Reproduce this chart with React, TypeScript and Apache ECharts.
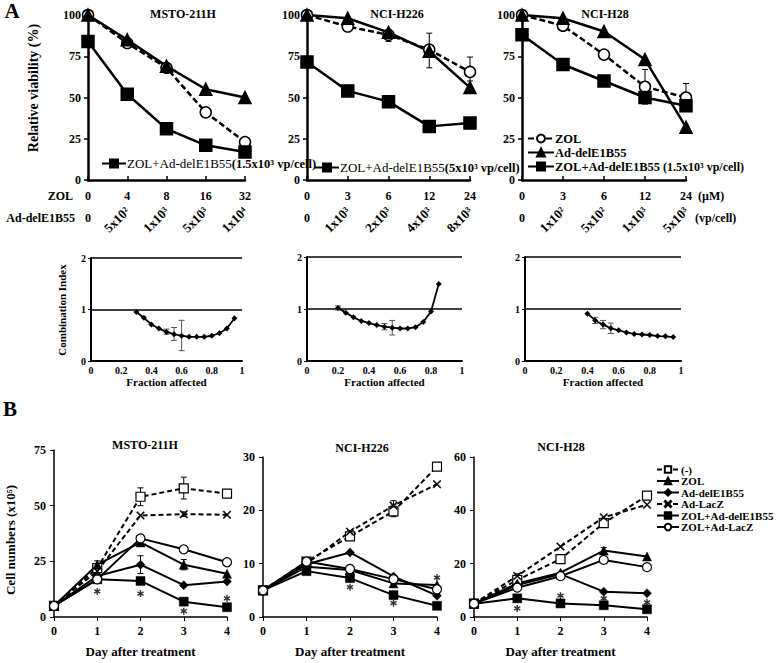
import React, { useEffect, useRef } from 'react';
import * as echarts from 'echarts';

const SERIF = '"Liberation Serif", "Times New Roman", Times, serif';

// ---------------- Panel A: relative viability ----------------
const mstoZolDoses = ['0', '4', '8', '16', '32'];
const mstoAdDoses = ['0', '5x10²', '1x10³', '5x10³', '1x10⁴'];
const mstoZol = [100, 83, 68, 41, 23];
const mstoAd = [100, 85, 69, 55, 50];
const mstoCombo = [84, 52, 31, 21, 17];

const h226ZolDoses = ['0', '3', '6', '12', '24'];
const h226AdDoses = ['0', '1x10³', '2x10³', '4x10³', '8x10³'];
const h226Zol = [100, 93, 88, 79, 65.5];
const h226Ad = [100, 98, 89.5, 78, 56];
const h226Combo = [71.5, 54, 47.5, 32.5, 34.5];

const h28ZolDoses = ['0', '3', '6', '12', '24'];
const h28AdDoses = ['0', '1x10²', '5x10²', '1x10³', '5x10³'];
const h28Zol = [100, 93.5, 76, 56.5, 50];
const h28Ad = [100, 98, 90, 73, 32];
const h28Combo = [88, 70, 60, 50, 45];

const viabilityTicks = [0, 25, 50, 75, 100];

// error bars: [dose index, low, high]
const mstoZolErr = [[1, 81, 85], [3, 39.5, 43.5], [4, 21.5, 25]];
const mstoComboErr = [[3, 19.5, 23.5]];
const h226ZolErr = [[2, 84, 91], [3, 68, 89], [4, 60, 74.5]];
const h28ZolErr = [[2, 73, 79], [3, 50, 67], [4, 42, 58.5]];
const h28ComboErr = [[3, 46, 53]];

// ---------------- Panel A: combination index ----------------
const ci1Fa = [0.3, 0.35, 0.4, 0.45, 0.5, 0.55, 0.6, 0.65, 0.7, 0.75, 0.8, 0.85, 0.9, 0.95];
const ci1 = [0.95, 0.84, 0.71, 0.63, 0.565, 0.52, 0.49, 0.47, 0.47, 0.47, 0.49, 0.54, 0.63, 0.83];
const ci1Err = [[0.5, 0.52, 0.62], [0.55, 0.4, 0.65], [0.6, 0.2, 0.79]];

const ci2Fa = [0.2, 0.25, 0.3, 0.35, 0.4, 0.45, 0.5, 0.55, 0.6, 0.65, 0.7, 0.75, 0.8, 0.85];
const ci2 = [1.02, 0.93, 0.84, 0.77, 0.73, 0.69, 0.66, 0.64, 0.625, 0.625, 0.65, 0.75, 0.95, 1.48];
const ci2Err = [[0.2, 0.98, 1.06], [0.5, 0.6, 0.72], [0.55, 0.5, 0.78]];

const ci3Fa = [0.4, 0.45, 0.5, 0.55, 0.6, 0.65, 0.7, 0.75, 0.8, 0.85, 0.9, 0.95];
const ci3 = [0.91, 0.78, 0.7, 0.63, 0.59, 0.55, 0.52, 0.51, 0.5, 0.48, 0.475, 0.46];
const ci3Err = [[0.45, 0.72, 0.84], [0.5, 0.62, 0.78], [0.55, 0.53, 0.73]];

// ---------------- Panel B: cell numbers ----------------
const days = [0, 1, 2, 3, 4];
const groupNames = ['(-)', 'ZOL', 'Ad-delE1B55', 'Ad-LacZ', 'ZOL+Ad-delE1B55', 'ZOL+Ad-LacZ'];

const mstoCells = [
  [5, 22, 54, 57.8, 55.4],      // (-)
  [5, 23.5, 33.5, 23.5, 19.4],  // ZOL
  [5, 18.4, 23.5, 14.3, 15.9],  // Ad-delE1B55
  [5, 20.6, 45.6, 46.2, 45.9],  // Ad-LacZ
  [5, 16.9, 16.2, 6.9, 4.4],    // ZOL+Ad-delE1B55
  [5, 16.9, 35.3, 30.4, 24.6],  // ZOL+Ad-LacZ
];
const h226Cells = [
  [5, 10.4, 15.1, 19.8, 28.2],
  [5, 9.4, 8.8, 6.3, 6.0],
  [5, 9.9, 12.1, 7.6, 4.0],
  [5, 10.0, 16.0, 20.9, 24.9],
  [5, 8.6, 7.3, 4.1, 2.1],
  [5, 10.4, 9.0, 7.1, 5.2],
];
const h28Cells = [
  [5, 13.9, 21.7, 35.2, 45.5],
  [5, 12.6, 16.6, 24.9, 22.7],
  [5, 12.0, 16.1, 9.5, 8.9],
  [5, 15.4, 26.4, 37.4, 42.1],
  [5, 7.0, 5.1, 4.4, 2.9],
  [5, 11.0, 15.3, 21.4, 18.7],
];

// error bars [day, low, high]
const mstoCellErr = [[2, 50, 58], [3, 53, 62.8], [1, 22, 25.2], [3, 21.2, 25.8], [2, 19.5, 27.5], [3, 45.2, 47.2]];
const h226CellErr = [[3, 18.8, 21], [2, 14.5, 16.2], [3, 20.3, 21.8]];
const h28CellErr = [[3, 33.8, 36.6], [3, 24, 26], [1, 14.6, 16.2]];

// significance asterisk positions [day, value]
const mstoStars = [[1, 11.5], [2, 10.5], [3, 2.6], [4, 8.4]];
const h226Stars = [[2, 5.6], [3, 2.6], [4, 7.4]];
const h28Stars = [[1, 3.2], [2, 8], [3, 7], [4, 5.5]];

const X_PATH = 'path://M0,1L1,0L5,4L9,0L10,1L6,5L10,9L9,10L5,6L1,10L0,9L4,5Z';
const STAR_PATH =
  'path://M4,0L6,0L6,10L4,10Z M1.17,1.63L9.83,6.63L8.83,8.37L0.17,3.37Z M0.17,6.63L8.83,1.63L9.83,3.37L1.17,8.37Z';

const groupStyles = [
  { symbol: 'rect', open: true, dashed: true, size: 9 },
  { symbol: 'triangle', open: false, dashed: false, size: 9 },
  { symbol: 'diamond', open: false, dashed: false, size: 9 },
  { symbol: X_PATH, open: false, dashed: true, size: 8 },
  { symbol: 'rect', open: false, dashed: false, size: 9 },
  { symbol: 'circle', open: true, dashed: false, size: 9 },
];

function errSeries(data: number[][], xi: number, yi: number, color = '#000', cap = 3) {
  return {
    type: 'custom',
    xAxisIndex: xi,
    yAxisIndex: yi,
    data,
    silent: true,
    z: 1,
    encode: { x: 0, y: [1, 2] },
    renderItem: (params: any, api: any) => {
      const x = api.value(0);
      const lo = api.coord([x, api.value(1)]);
      const hi = api.coord([x, api.value(2)]);
      const style = { stroke: color, lineWidth: 1 };
      return {
        type: 'group',
        children: [
          { type: 'line', shape: { x1: lo[0], y1: lo[1], x2: hi[0], y2: hi[1] }, style },
          { type: 'line', shape: { x1: lo[0] - cap, y1: lo[1], x2: lo[0] + cap, y2: lo[1] }, style },
          { type: 'line', shape: { x1: hi[0] - cap, y1: hi[1], x2: hi[0] + cap, y2: hi[1] }, style },
        ],
      };
    },
  };
}

function vLine(name: string, data: number[], xi: number, yi: number, kind: 'zol' | 'ad' | 'combo') {
  const base: any = {
    name,
    type: 'line',
    xAxisIndex: xi,
    yAxisIndex: yi,
    data,
    z: 3,
    lineStyle: { color: '#000', width: 2.5, type: kind === 'zol' ? [6, 3] : 'solid' },
    itemStyle: { color: '#000', borderColor: '#000', borderWidth: 1.5 },
  };
  if (kind === 'zol') {
    base.symbol = 'circle';
    base.symbolSize = 11;
    base.itemStyle = { color: '#fff', borderColor: '#000', borderWidth: 1.5 };
  } else if (kind === 'ad') {
    base.symbol = 'triangle';
    base.symbolSize = 12;
  } else {
    base.symbol = 'rect';
    base.symbolSize = 12;
  }
  return base;
}

function ciLine(fa: number[], ci: number[], xi: number, yi: number) {
  return {
    type: 'line',
    xAxisIndex: xi,
    yAxisIndex: yi,
    data: fa.map((f, i) => [f, ci[i]]),
    symbol: 'diamond',
    symbolSize: 6,
    lineStyle: { color: '#000', width: 1.8 },
    itemStyle: { color: '#000' },
    z: 3,
  };
}

function starSeries(data: number[][], xi: number, yi: number) {
  return {
    type: 'scatter',
    xAxisIndex: xi,
    yAxisIndex: yi,
    data,
    symbol: STAR_PATH,
    symbolSize: 7,
    symbolKeepAspect: true,
    silent: true,
    z: 4,
    itemStyle: { color: '#000' },
  };
}

const tickLabel = { color: '#000', fontFamily: SERIF, fontWeight: 'bold' as const, fontSize: 12 };

function viabilityX(data: string[], gridIndex: number) {
  return {
    type: 'category',
    gridIndex,
    data,
    boundaryGap: false,
    axisLine: { show: true, lineStyle: { color: '#000', width: 2.5 } },
    axisTick: { show: true, inside: true, length: 4, lineStyle: { color: '#000', width: 1.5 } },
    axisLabel: { ...tickLabel, margin: 10, interval: 0 },
    splitLine: { show: false },
  };
}

function doseX(data: string[], gridIndex: number) {
  return {
    type: 'category',
    gridIndex,
    data,
    boundaryGap: false,
    position: 'bottom',
    offset: 22,
    axisLine: { show: false },
    axisTick: { show: false },
    axisLabel: {
      ...tickLabel,
      fontSize: 13,
      rotate: 45,
      margin: 7,
      interval: 0,
      formatter: (v: string, i: number) => (i === 0 ? '' : v),
    },
    splitLine: { show: false },
  };
}

function viabilityY(gridIndex: number) {
  return {
    type: 'value',
    gridIndex,
    min: viabilityTicks[0],
    max: viabilityTicks[viabilityTicks.length - 1],
    interval: 25,
    axisLine: { show: true, lineStyle: { color: '#000', width: 2.5 } },
    axisTick: { show: true, length: 4, lineStyle: { color: '#000', width: 1.5 } },
    axisLabel: { ...tickLabel, margin: 7 },
    splitLine: { show: false },
  };
}

function ciX(gridIndex: number) {
  return {
    type: 'value',
    gridIndex,
    min: 0,
    max: 1,
    interval: 0.2,
    name: 'Fraction affected',
    nameLocation: 'middle',
    nameGap: 15,
    nameTextStyle: { ...tickLabel, fontSize: 11 },
    axisLine: { show: true, lineStyle: { color: '#000', width: 2 } },
    axisTick: { show: false },
    axisLabel: { ...tickLabel, fontSize: 10, margin: 4 },
    splitLine: { show: false },
  };
}

function ciY(gridIndex: number) {
  return {
    type: 'value',
    gridIndex,
    min: 0,
    max: 2,
    interval: 1,
    axisLine: { show: true, lineStyle: { color: '#000', width: 2 } },
    axisTick: { show: true, length: 3, lineStyle: { color: '#000' } },
    axisLabel: { ...tickLabel, fontSize: 10, margin: 5 },
    splitLine: { show: true, lineStyle: { color: '#000', width: 1.5 } },
  };
}

function cellX(gridIndex: number) {
  return {
    type: 'value',
    gridIndex,
    min: 0,
    max: 4,
    interval: 1,
    name: 'Day after treatment',
    nameLocation: 'middle',
    nameGap: 28,
    nameTextStyle: { ...tickLabel, fontSize: 13 },
    axisLine: { show: true, lineStyle: { color: '#000', width: 1.5 } },
    axisTick: { show: true, length: 4, lineStyle: { color: '#000' } },
    axisLabel: { ...tickLabel, margin: 8 },
    splitLine: { show: false },
  };
}

function cellY(gridIndex: number, max: number, interval: number) {
  return {
    type: 'value',
    gridIndex,
    min: 0,
    max,
    interval,
    axisLine: { show: true, lineStyle: { color: '#000', width: 1.5 } },
    axisTick: { show: true, length: 4, lineStyle: { color: '#000' } },
    axisLabel: { ...tickLabel, margin: 8 },
    splitLine: { show: false },
  };
}

function cellSeries(values: number[][], xi: number, yi: number) {
  return values.map((vals, g) => {
    const st = groupStyles[g];
    return {
      name: groupNames[g],
      type: 'line',
      xAxisIndex: xi,
      yAxisIndex: yi,
      data: days.map((d, i) => [d, vals[i]]),
      symbol: st.symbol,
      symbolSize: st.size,
      z: 3,
      lineStyle: { color: '#000', width: 2, type: st.dashed ? [5, 3] : 'solid' },
      itemStyle: st.open
        ? { color: '#fff', borderColor: '#000', borderWidth: 1.2 }
        : { color: '#000', borderColor: '#000', borderWidth: 0.5 },
    };
  });
}

const comboRich = {
  a: { fontFamily: SERIF, fontSize: 13, fontWeight: 'normal', color: '#000' },
  b: { fontFamily: SERIF, fontSize: 12.5, fontWeight: 'bold', color: '#000' },
  ab: { fontFamily: SERIF, fontSize: 12.5, fontWeight: 'bold', color: '#000' },
  bs: { fontFamily: SERIF, fontSize: 12, fontWeight: 'bold', color: '#000' },
};

function comboFormatter(boldMain: boolean) {
  return (name: string) => {
    const m = name.match(/^(ZOL\+Ad-delE1B55)(\s?)(\(.*\))$/);
    if (m) return `{${boldMain ? 'ab' : 'a'}|${m[1]}}${m[2] ? '{bs| }' : ''}{${boldMain ? 'bs' : 'b'}|${m[3]}}`;
    return `{ab|${name}}`;
  };
}

function buildOptionA(): any {
  const combo1 = 'ZOL+Ad-delE1B55(1.5x10³ vp/cell)';
  const combo2 = 'ZOL+Ad-delE1B55(5x10³ vp/cell)';
  const combo3 = 'ZOL+Ad-delE1B55 (1.5x10³ vp/cell)';
  const txt = (text: string, x: number, y: number, extra: any = {}) => ({
    type: 'text',
    x,
    y,
    silent: true,
    style: {
      text,
      fill: '#000',
      font: `bold ${extra.size || 12}px ${SERIF}`,
      textAlign: extra.align || 'center',
      textVerticalAlign: 'middle',
    },
    rotation: extra.rotation || 0,
  });
  return {
    animation: false,
    backgroundColor: '#fff',
    title: [
      { text: 'MSTO-211H', left: 178, top: 3, textAlign: 'center', textStyle: { ...tickLabel, fontSize: 12 } },
      { text: 'NCI-H226', left: 392, top: 3, textAlign: 'center', textStyle: { ...tickLabel, fontSize: 12 } },
      { text: 'NCI-H28', left: 600, top: 3, textAlign: 'center', textStyle: { ...tickLabel, fontSize: 12 } },
    ],
    grid: [
      { left: 88, top: 15, width: 157, height: 165 },
      { left: 307, top: 15, width: 163, height: 165 },
      { left: 522, top: 15, width: 164, height: 165 },
      { left: 91, top: 258, width: 151, height: 103 },
      { left: 307, top: 257, width: 155, height: 104 },
      { left: 525, top: 257, width: 156, height: 104 },
    ],
    xAxis: [
      viabilityX(mstoZolDoses, 0),
      doseX(mstoAdDoses, 0),
      viabilityX(h226ZolDoses, 1),
      doseX(h226AdDoses, 1),
      viabilityX(h28ZolDoses, 2),
      doseX(h28AdDoses, 2),
      ciX(3),
      ciX(4),
      ciX(5),
    ],
    yAxis: [viabilityY(0), viabilityY(1), viabilityY(2), ciY(3), ciY(4), ciY(5)],
    legend: [
      {
        data: [combo1], left: 96, top: 152, itemWidth: 24, itemHeight: 10, selectedMode: false,
        formatter: comboFormatter(false), textStyle: { rich: comboRich, padding: [0, 0, 0, -4] },
      },
      {
        data: [combo2], left: 309, top: 156, itemWidth: 24, itemHeight: 10, selectedMode: false,
        formatter: comboFormatter(false), textStyle: { rich: comboRich, padding: [0, 0, 0, -4] },
      },
      {
        data: ['ZOL', 'Ad-delE1B55', combo3], left: 522, top: 127, orient: 'vertical', itemGap: 1,
        itemWidth: 26, itemHeight: 10, selectedMode: false,
        formatter: comboFormatter(true), textStyle: { rich: comboRich, padding: [0, 0, 0, -4] },
      },
    ],
    series: [
      errSeries(mstoZolErr, 0, 0),
      errSeries(mstoComboErr, 0, 0),
      vLine('ZOL', mstoZol, 0, 0, 'zol'),
      vLine('Ad-delE1B55', mstoAd, 0, 0, 'ad'),
      vLine(combo1, mstoCombo, 0, 0, 'combo'),
      errSeries(h226ZolErr, 2, 1),
      vLine('ZOL', h226Zol, 2, 1, 'zol'),
      vLine('Ad-delE1B55', h226Ad, 2, 1, 'ad'),
      vLine(combo2, h226Combo, 2, 1, 'combo'),
      errSeries(h28ZolErr, 4, 2),
      errSeries(h28ComboErr, 4, 2),
      vLine('ZOL', h28Zol, 4, 2, 'zol'),
      vLine('Ad-delE1B55', h28Ad, 4, 2, 'ad'),
      vLine(combo3, h28Combo, 4, 2, 'combo'),
      errSeries(ci1Err, 6, 3, '#555', 3),
      ciLine(ci1Fa, ci1, 6, 3),
      errSeries(ci2Err, 7, 4, '#555', 3),
      ciLine(ci2Fa, ci2, 7, 4),
      errSeries(ci3Err, 8, 5, '#555', 3),
      ciLine(ci3Fa, ci3, 8, 5),
    ],
    graphic: [
      txt('A', 12, 11, { size: 21 }),
      txt('ZOL', 73, 196, { align: 'right', size: 12 }),
      txt('Ad-delE1B55', 75, 218, { align: 'right', size: 12 }),
      txt('0', 88, 218, { size: 12 }),
      txt('0', 307, 218, { size: 12 }),
      txt('0', 522, 218, { size: 12 }),
      txt('(µM)', 698, 196, { align: 'left', size: 12 }),
      txt('(vp/cell)', 695, 218, { align: 'left', size: 12 }),
      txt('Relative viability (%)', 33, 88, { size: 14, rotation: Math.PI / 2 }),
      txt('Combination Index', 62, 310, { size: 11, rotation: Math.PI / 2 }),
    ],
  };
}

function buildOptionB(): any {
  const txt = (text: string, x: number, y: number, extra: any = {}) => ({
    type: 'text',
    x,
    y,
    silent: true,
    style: {
      text,
      fill: '#000',
      font: `bold ${extra.size || 12}px ${SERIF}`,
      textAlign: extra.align || 'center',
      textVerticalAlign: 'middle',
    },
    rotation: extra.rotation || 0,
  });
  return {
    animation: false,
    backgroundColor: '#fff',
    title: [
      { text: 'MSTO-211H', left: 140, top: 39, textAlign: 'center', textStyle: { ...tickLabel, fontSize: 12 } },
      { text: 'NCI-H226', left: 357, top: 42, textAlign: 'center', textStyle: { ...tickLabel, fontSize: 12 } },
      { text: 'NCI-H28', left: 556, top: 41, textAlign: 'center', textStyle: { ...tickLabel, fontSize: 12 } },
    ],
    grid: [
      { left: 54, top: 55, width: 173, height: 170 },
      { left: 263, top: 62, width: 174, height: 164 },
      { left: 474, top: 62, width: 173, height: 164 },
    ],
    xAxis: [cellX(0), cellX(1), cellX(2)],
    yAxis: [cellY(0, 75, 25), cellY(1, 30, 10), cellY(2, 60, 20)],
    legend: {
      data: groupNames,
      left: 651,
      top: 64,
      orient: 'vertical',
      itemGap: 0.5,
      itemWidth: 22,
      itemHeight: 8,
      selectedMode: false,
      textStyle: { color: '#000', fontFamily: SERIF, fontWeight: 'bold', fontSize: 11, lineHeight: 11, padding: [0, 0, 0, -3] },
    },
    series: [
      errSeries(mstoCellErr, 0, 0),
      ...cellSeries(mstoCells, 0, 0),
      starSeries(mstoStars, 0, 0),
      errSeries(h226CellErr, 1, 1),
      ...cellSeries(h226Cells, 1, 1),
      starSeries(h226Stars, 1, 1),
      errSeries(h28CellErr, 2, 2),
      ...cellSeries(h28Cells, 2, 2),
      starSeries(h28Stars, 2, 2),
    ],
    graphic: [
      txt('B', 10, 14, { size: 21 }),
      txt('Cell numbers (x10⁵)', 10, 145, { size: 13, rotation: Math.PI / 2 }),
    ],
  };
}

export default function App() {
  const refA = useRef<HTMLDivElement>(null);
  const refB = useRef<HTMLDivElement>(null);
  useEffect(() => {
    if (!refA.current || !refB.current) return;
    const a = echarts.init(refA.current, undefined, { renderer: 'svg' });
    const b = echarts.init(refB.current, undefined, { renderer: 'svg' });
    a.setOption(buildOptionA());
    b.setOption(buildOptionB());
    return () => {
      a.dispose();
      b.dispose();
    };
  }, []);
  return (
    <div style={{ position: 'absolute', left: 0, top: 0, width: 779, height: 663, background: '#fff' }}>
      <div ref={refA} style={{ position: 'absolute', left: 0, top: 0, width: 779, height: 395 }} />
      <div ref={refB} style={{ position: 'absolute', left: 0, top: 395, width: 779, height: 268 }} />
    </div>
  );
}
